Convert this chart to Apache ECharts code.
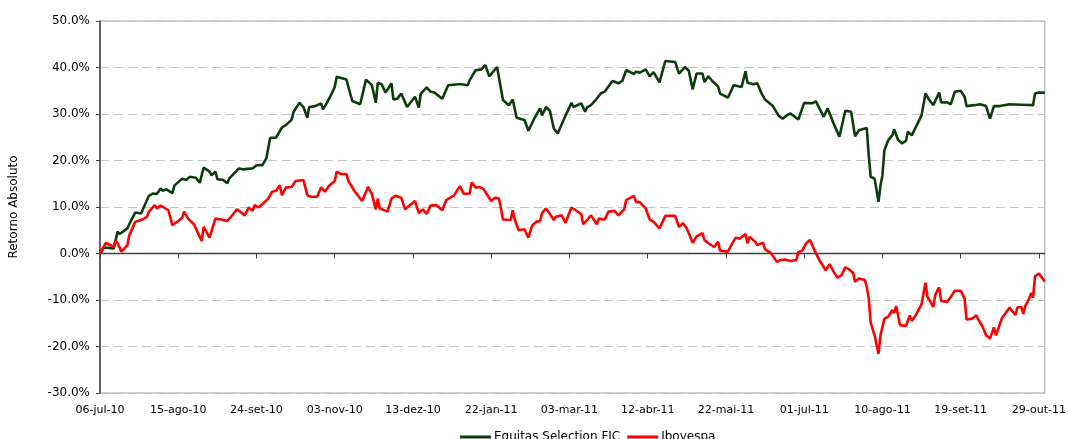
<!DOCTYPE html>
<html>
<head>
<meta charset="utf-8">
<script src="https://cdn.jsdelivr.net/npm/echarts@6/dist/echarts.min.js"></script>
<style>
html,body{margin:0;padding:0;background:#fff;}
#chart{width:1069px;height:439px;}
</style>
</head>
<body>
<div id="chart"></div>
<script>
// ---- Data ----
const seriesNames = ['Equitas Selection FIC', 'Ibovespa'];

const equitasDates = ['2010-07-06','2010-07-08','2010-07-13','2010-07-15','2010-07-16','2010-07-20','2010-07-22','2010-07-24','2010-07-27','2010-07-31',
'2010-08-02','2010-08-04','2010-08-06','2010-08-07','2010-08-09','2010-08-12','2010-08-13','2010-08-14','2010-08-17','2010-08-19','2010-08-21','2010-08-24','2010-08-26','2010-08-28','2010-08-31',
'2010-09-01','2010-09-03','2010-09-04','2010-09-07','2010-09-09','2010-09-10','2010-09-15','2010-09-17','2010-09-22','2010-09-24','2010-09-27','2010-09-29','2010-09-30',
'2010-10-01','2010-10-04','2010-10-07','2010-10-09','2010-10-12','2010-10-13','2010-10-16','2010-10-18','2010-10-20','2010-10-21','2010-10-24','2010-10-27','2010-10-28','2010-10-30',
'2010-11-01','2010-11-03','2010-11-04','2010-11-09','2010-11-10','2010-11-12','2010-11-16','2010-11-19','2010-11-22','2010-11-24','2010-11-25','2010-11-27','2010-11-29',
'2010-12-02','2010-12-03','2010-12-05','2010-12-07','2010-12-10','2010-12-14','2010-12-16','2010-12-17','2010-12-20','2010-12-22','2010-12-24','2010-12-28','2010-12-31',
'2011-01-05','2011-01-07','2011-01-10','2011-01-11','2011-01-14','2011-01-17','2011-01-19','2011-01-21','2011-01-25','2011-01-26','2011-01-28','2011-01-31',
'2011-02-02','2011-02-04','2011-02-08','2011-02-10','2011-02-13','2011-02-15','2011-02-16','2011-02-17','2011-02-19','2011-02-21','2011-02-23','2011-02-25',
'2011-03-01','2011-03-02','2011-03-04','2011-03-05','2011-03-09','2011-03-11','2011-03-12','2011-03-14','2011-03-16','2011-03-19','2011-03-21','2011-03-25','2011-03-28','2011-03-30',
'2011-04-01','2011-04-05','2011-04-06','2011-04-08','2011-04-11','2011-04-13','2011-04-15','2011-04-18','2011-04-21','2011-04-26','2011-04-27','2011-04-28',
'2011-05-01','2011-05-03','2011-05-05','2011-05-07','2011-05-10','2011-05-11','2011-05-13','2011-05-15','2011-05-18','2011-05-19','2011-05-23','2011-05-26','2011-05-30',
'2011-06-01','2011-06-02','2011-06-05','2011-06-07','2011-06-09','2011-06-11','2011-06-15','2011-06-18','2011-06-20','2011-06-22','2011-06-23','2011-06-24','2011-06-28',
'2011-07-01','2011-07-05','2011-07-07','2011-07-11','2011-07-13','2011-07-16','2011-07-19','2011-07-22','2011-07-25','2011-07-27','2011-07-29',
'2011-08-02','2011-08-03','2011-08-04','2011-08-06','2011-08-08','2011-08-09','2011-08-10','2011-08-11','2011-08-13','2011-08-15','2011-08-16','2011-08-18','2011-08-20','2011-08-22','2011-08-23','2011-08-25','2011-08-26','2011-08-30',
'2011-09-01','2011-09-03','2011-09-05','2011-09-08','2011-09-09','2011-09-12','2011-09-14','2011-09-16','2011-09-19','2011-09-21','2011-09-22','2011-09-26','2011-09-29',
'2011-10-02','2011-10-04','2011-10-06','2011-10-09','2011-10-14','2011-10-20','2011-10-26','2011-10-27','2011-10-29','2011-11-01'];

const equitasValues = [0.0,1.3,1.1,4.7,4.2,5.4,7.2,8.8,8.6,12.4,
12.9,12.8,14.0,13.5,13.8,13.0,14.6,14.3,16.1,15.8,16.5,16.3,15.2,18.5,17.6,
16.8,17.6,16.0,15.8,15.1,16.1,18.3,18.1,18.3,19.0,19.0,20.4,20.6,
24.9,24.9,27.1,27.6,28.8,30.5,32.4,31.5,29.2,31.5,31.7,32.3,31.0,32.4,
34.0,35.8,38.0,37.4,35.8,32.8,32.1,37.4,36.2,32.4,36.7,36.4,34.6,
36.6,33.1,33.3,34.4,31.5,33.7,31.4,34.4,35.7,34.8,34.6,33.3,36.2,
36.4,36.4,36.2,37.3,39.4,39.6,40.5,38.1,40.1,40.0,33.0,31.9,
33.1,29.2,28.7,26.4,29.0,30.5,31.2,29.7,31.5,30.7,26.9,25.8,
29.7,30.5,32.4,31.5,32.3,30.5,31.4,31.9,32.8,34.4,34.8,37.1,36.6,37.1,
39.4,38.6,39.1,38.9,39.6,38.1,39.0,36.8,41.4,41.2,40.9,38.7,
40.1,39.3,35.3,38.7,38.7,36.9,38.1,37.1,35.9,34.4,33.5,36.2,35.8,
39.2,36.7,36.4,36.6,34.6,33.1,31.7,29.6,29.0,29.7,29.4,30.1,28.8,
32.4,32.3,32.7,29.4,31.2,28.0,25.1,30.7,30.5,25.2,26.5,
27.0,21.1,16.5,16.1,11.1,14.6,16.8,22.2,24.4,25.4,26.7,24.4,23.7,24.2,26.2,25.4,25.8,29.7,
34.4,33.0,31.9,34.6,32.5,32.5,32.1,34.8,35.0,33.7,31.7,31.9,32.1,
31.7,29.0,31.7,31.7,32.1,32.0,31.9,34.4,34.6,34.6];

const iboveDates = ['2010-07-06','2010-07-09','2010-07-10','2010-07-13','2010-07-14','2010-07-15','2010-07-17','2010-07-20','2010-07-21','2010-07-22','2010-07-24','2010-07-27','2010-07-30','2010-07-31',
'2010-08-03','2010-08-04','2010-08-06','2010-08-07','2010-08-10','2010-08-12','2010-08-15','2010-08-17','2010-08-18','2010-08-20','2010-08-23','2010-08-24','2010-08-27','2010-08-28','2010-08-31',
'2010-09-03','2010-09-04','2010-09-06','2010-09-09','2010-09-11','2010-09-14','2010-09-15','2010-09-18','2010-09-20','2010-09-22','2010-09-23','2010-09-24','2010-09-25','2010-09-27','2010-09-30',
'2010-10-02','2010-10-04','2010-10-06','2010-10-07','2010-10-09','2010-10-12','2010-10-14','2010-10-18','2010-10-19','2010-10-20','2010-10-22','2010-10-25','2010-10-27','2010-10-29','2010-10-31',
'2010-11-03','2010-11-04','2010-11-06','2010-11-09','2010-11-10','2010-11-13','2010-11-17','2010-11-20','2010-11-22','2010-11-24','2010-11-25','2010-11-26','2010-11-30',
'2010-12-02','2010-12-04','2010-12-07','2010-12-09','2010-12-10','2010-12-14','2010-12-16','2010-12-18','2010-12-20','2010-12-22','2010-12-25','2010-12-28','2010-12-30',
'2011-01-03','2011-01-06','2011-01-08','2011-01-11','2011-01-12','2011-01-14','2011-01-16','2011-01-18','2011-01-22','2011-01-24','2011-01-26','2011-01-28',
'2011-02-01','2011-02-02','2011-02-03','2011-02-05','2011-02-08','2011-02-10','2011-02-12','2011-02-14','2011-02-16','2011-02-17','2011-02-19','2011-02-21','2011-02-23','2011-02-24','2011-02-27','2011-02-28',
'2011-03-01','2011-03-04','2011-03-09','2011-03-10','2011-03-12','2011-03-14','2011-03-17','2011-03-18','2011-03-21','2011-03-23','2011-03-26','2011-03-28','2011-03-31',
'2011-04-01','2011-04-05','2011-04-06','2011-04-08','2011-04-11','2011-04-13','2011-04-15','2011-04-18','2011-04-21','2011-04-26','2011-04-28','2011-04-30',
'2011-05-02','2011-05-05','2011-05-07','2011-05-10','2011-05-11','2011-05-13','2011-05-16','2011-05-18','2011-05-19','2011-05-20','2011-05-23','2011-05-25','2011-05-27','2011-05-29','2011-05-30',
'2011-06-01','2011-06-02','2011-06-03','2011-06-06','2011-06-07','2011-06-10','2011-06-11','2011-06-14','2011-06-17','2011-06-19','2011-06-21','2011-06-24','2011-06-27','2011-06-28','2011-06-30',
'2011-07-02','2011-07-04','2011-07-06','2011-07-09','2011-07-12','2011-07-14','2011-07-16','2011-07-18','2011-07-20','2011-07-22','2011-07-24','2011-07-26','2011-07-27','2011-07-29',
'2011-08-01','2011-08-02','2011-08-03','2011-08-04','2011-08-05','2011-08-06','2011-08-08','2011-08-09','2011-08-10','2011-08-11','2011-08-13','2011-08-15','2011-08-16','2011-08-17','2011-08-19','2011-08-22','2011-08-24','2011-08-25','2011-08-27','2011-08-30',
'2011-09-01','2011-09-02','2011-09-05','2011-09-06','2011-09-08','2011-09-09','2011-09-12','2011-09-13','2011-09-14','2011-09-16','2011-09-19','2011-09-21','2011-09-22','2011-09-25','2011-09-27','2011-09-28','2011-09-30',
'2011-10-02','2011-10-04','2011-10-06','2011-10-07','2011-10-10','2011-10-14','2011-10-15','2011-10-17','2011-10-18','2011-10-20','2011-10-21','2011-10-22','2011-10-24','2011-10-25','2011-10-26','2011-10-27','2011-10-29','2011-11-01'];

const iboveValues = [0.0,2.3,2.2,1.4,2.7,2.2,0.4,1.8,3.9,3.9,6.8,7.2,7.9,9.0,
10.4,9.7,10.3,9.9,9.3,6.1,7.0,7.7,9.0,7.5,6.3,5.4,2.7,5.7,3.4,
7.5,7.7,7.3,7.0,7.9,9.5,9.7,8.2,9.9,9.2,10.4,10.8,9.9,10.6,11.8,
13.3,13.5,14.7,12.5,14.2,14.3,15.6,15.8,15.4,12.5,12.2,12.2,14.2,13.3,14.5,
15.6,17.6,17.1,17.1,15.6,13.5,11.3,14.3,12.8,9.5,11.8,9.7,9.0,
11.8,12.4,12.0,9.5,9.2,11.3,8.7,9.5,8.5,10.3,10.4,9.3,11.5,
12.5,14.5,12.8,12.9,15.3,14.2,14.3,13.9,11.3,12.0,11.8,7.3,
7.2,9.3,7.3,5.0,5.2,3.4,6.1,6.8,7.0,8.7,9.7,8.5,7.2,7.9,8.2,8.6,
6.6,9.9,8.5,6.3,7.2,8.2,6.3,7.5,7.3,9.0,9.2,8.2,9.5,
11.5,12.4,11.1,11.0,9.7,7.3,6.8,5.4,8.1,8.1,5.7,6.5,
5.4,2.3,3.7,4.4,2.9,2.2,1.4,2.5,0.6,0.9,0.4,2.0,3.4,3.2,3.0,
4.2,2.2,3.6,2.5,1.8,2.3,0.9,0.1,-1.8,-1.4,-1.3,-1.6,-1.4,0.3,0.6,
2.2,2.9,0.9,-1.6,-3.6,-2.3,-3.9,-5.2,-4.7,-3.0,-3.4,-4.2,-6.1,-5.4,
-5.7,-7.2,-9.7,-14.9,-15.1,-17.6,-21.6,-17.6,-17.2,-14.0,-13.6,-12.2,-12.8,-11.3,-15.4,-15.6,-13.3,-14.5,-13.3,-10.9,
-6.3,-9.3,-11.5,-8.9,-7.3,-10.2,-10.4,-10.6,-9.3,-8.0,-8.0,-9.7,-14.2,-14.0,-13.3,-14.2,-15.6,
-17.6,-18.3,-15.9,-17.6,-14.0,-11.6,-12.2,-13.2,-11.6,-11.5,-13.0,-11.3,-9.7,-8.5,-9.5,-4.9,-4.3,-6.1];

const yTicks = [-30, -20, -10, 0, 10, 20, 30, 40, 50];
const monthsPt = ['jan','fev','mar','abr','mai','jun','jul','ago','set','out','nov','dez'];
const startDate = '2010-07-06';
const tickStepDays = 40;

// ---- helpers ----
const DAY = 86400000;
const t0 = Date.parse(startDate + 'T00:00:00Z');
function dayOffset(d) { return Math.round((Date.parse(d + 'T00:00:00Z') - t0) / DAY); }
function fmtDate(off) {
  const dt = new Date(t0 + off * DAY);
  const dd = String(dt.getUTCDate()).padStart(2, '0');
  const yy = String(dt.getUTCFullYear()).slice(2);
  return dd + '-' + monthsPt[dt.getUTCMonth()] + '-' + yy;
}
const equitasData = equitasDates.map((d, i) => [dayOffset(d), equitasValues[i]]);
const iboveData = iboveDates.map((d, i) => [dayOffset(d), iboveValues[i]]);
const lastDay = Math.max(dayOffset(equitasDates[equitasDates.length - 1]), dayOffset(iboveDates[iboveDates.length - 1]));

const chart = echarts.init(document.getElementById('chart'), null, { renderer: 'canvas' });
const FONT = 'DejaVu Sans';
chart.setOption({
  animation: false,
  textStyle: { fontFamily: FONT },
  grid: {
    left: 100, top: 21, right: 22, bottom: 46,
    show: true, borderColor: '#a0a0a0', borderWidth: 1, backgroundColor: 'transparent'
  },
  legend: {
    data: seriesNames,
    top: 426, left: 455,
    icon: 'rect', itemWidth: 31, itemHeight: 3, itemGap: 7,
    textStyle: { fontFamily: FONT, fontSize: 12, color: '#000', padding: [0, 0, 0, -2] }
  },
  xAxis: {
    type: 'value',
    min: 0, max: lastDay, interval: tickStepDays,
    axisLine: { onZero: true, lineStyle: { color: '#404040', width: 1.3 } },
    axisTick: { show: true, length: 5, lineStyle: { color: '#404040' } },
    axisLabel: {
      showMaxLabel: false, margin: 12,
      fontFamily: FONT, fontSize: 11, color: '#000',
      formatter: v => (v % tickStepDays === 0 ? fmtDate(v) : '')
    },
    splitLine: { show: false }
  },
  yAxis: {
    type: 'value',
    min: yTicks[0], max: yTicks[yTicks.length - 1], interval: 10,
    name: 'Retorno Absoluto', nameLocation: 'middle', nameGap: 80,
    nameTextStyle: { fontFamily: FONT, fontSize: 12, color: '#000' },
    axisLine: { show: true, lineStyle: { color: '#404040', width: 1.5 } },
    axisTick: { show: true, length: 4, lineStyle: { color: '#404040' } },
    axisLabel: { margin: 10, fontFamily: FONT, fontSize: 12, color: '#000', formatter: v => v.toFixed(1) + '%' },
    splitLine: { show: true, lineStyle: { color: '#c4c4c4', width: 1, type: [9, 5] } }
  },
  series: [
    {
      name: seriesNames[0], type: 'line', data: equitasData,
      showSymbol: false, symbol: 'none',
      lineStyle: { color: '#0a3d0a', width: 2.6 }, itemStyle: { color: '#0a3d0a' }, z: 3
    },
    {
      name: seriesNames[1], type: 'line', data: iboveData,
      showSymbol: false, symbol: 'none',
      lineStyle: { color: '#ff0000', width: 2.6 }, itemStyle: { color: '#ff0000' }, z: 4
    }
  ]
});
</script>
</body>
</html>
